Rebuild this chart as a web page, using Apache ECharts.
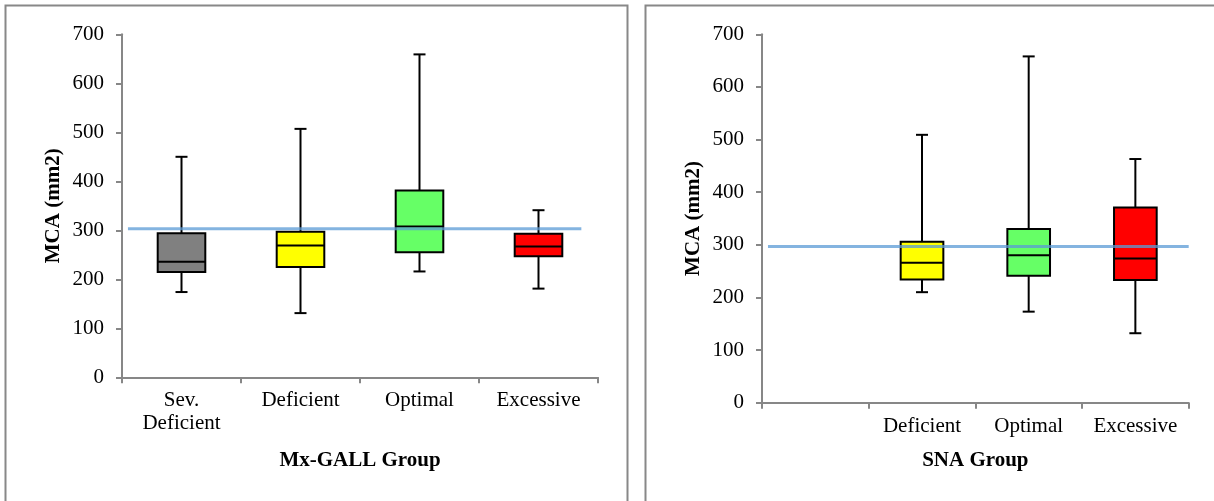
<!DOCTYPE html>
<html>
<head>
<meta charset="utf-8">
<script src="https://cdn.jsdelivr.net/npm/echarts@6/dist/echarts.min.js"></script>
<style>
html,body{margin:0;padding:0;background:#fff;}
#chart{width:1214px;height:501px;}
</style>
</head>
<body>
<div id="chart"></div>
<script>
// ---- Data ----
const leftCategories = ['Sev.\nDeficient', 'Deficient', 'Optimal', 'Excessive'];
const leftMin    = [174, 131, 216, 181];
const leftQ1     = [215, 225, 255, 247];
const leftMedian = [236, 269, 308, 267];
const leftQ3     = [294, 297, 381, 293];
const leftMax    = [450, 507, 659, 341];
const leftReference = 303;
const leftReferenceSpan = [0.05, 3.86];

const rightCategories = ['', 'Deficient', 'Optimal', 'Excessive'];
const rightMin    = [null, 210, 173, 132];
const rightQ1     = [null, 234, 241, 233];
const rightMedian = [null, 266, 280, 274];
const rightQ3     = [null, 306, 330, 371];
const rightMax    = [null, 509, 658, 463];
const rightReference = 297;
const rightReferenceSpan = [0.056, 4.0];

const yTicks = [0, 100, 200, 300, 400, 500, 600, 700];

// ---- Styles ----
const leftColors  = ['#808080', '#FFFF00', '#66FF66', '#FF0000'];
const rightColors = [null, '#FFFF00', '#66FF66', '#FF0000'];
const FONT = 'Liberation Serif';
const AXIS_GREY = '#878787';

function boxData(mins, q1s, meds, q3s, maxs) {
  const out = [];
  for (let i = 0; i < mins.length; i++) {
    if (mins[i] == null) continue;
    out.push([i, mins[i], q1s[i], meds[i], q3s[i], maxs[i]]);
  }
  return out;
}

function makeRenderer(colors) {
  return function (params, api) {
    const i = api.value(0);
    const band = api.size([1, 0])[0];
    const w = band * 0.4;
    const cap = 12;
    const cx = api.coord([i, 0])[0];
    const yMin = api.coord([i, api.value(1)])[1];
    const yQ1 = api.coord([i, api.value(2)])[1];
    const yMed = api.coord([i, api.value(3)])[1];
    const yQ3 = api.coord([i, api.value(4)])[1];
    const yMax = api.coord([i, api.value(5)])[1];
    const ls = {stroke: '#000', lineWidth: 2};
    return {
      type: 'group',
      children: [
        {type: 'line', shape: {x1: cx, y1: yMax, x2: cx, y2: yQ3}, style: ls},
        {type: 'line', shape: {x1: cx, y1: yQ1, x2: cx, y2: yMin}, style: ls},
        {type: 'line', shape: {x1: cx - cap / 2, y1: yMax, x2: cx + cap / 2, y2: yMax}, style: ls},
        {type: 'line', shape: {x1: cx - cap / 2, y1: yMin, x2: cx + cap / 2, y2: yMin}, style: ls},
        {type: 'rect', shape: {x: cx - w / 2, y: yQ3, width: w, height: yQ1 - yQ3},
          style: {fill: colors[i], stroke: '#000', lineWidth: 2}},
        {type: 'line', shape: {x1: cx - w / 2, y1: yMed, x2: cx + w / 2, y2: yMed}, style: ls}
      ]
    };
  };
}

function catAxis(gridIndex, cats, name, nameGap) {
  return {
    type: 'category', gridIndex: gridIndex, data: cats,
    boundaryGap: true,
    axisLine: {show: true, lineStyle: {color: AXIS_GREY, width: 2}},
    axisTick: {show: true, length: 6, inside: false, lineStyle: {color: AXIS_GREY, width: 2}},
    axisLabel: {color: '#000', fontFamily: FONT, fontSize: 21, lineHeight: 23, margin: 12, interval: 0},
    name: name, nameLocation: 'middle', nameGap: nameGap,
    nameTextStyle: {color: '#000', fontFamily: FONT, fontSize: 21, fontWeight: 'bold'},
    splitLine: {show: false}
  };
}
function hiddenValueX(gridIndex) {
  return {type: 'value', gridIndex: gridIndex, min: 0, max: 4, show: false, splitLine: {show: false}};
}
function valAxis(gridIndex) {
  return {
    type: 'value', gridIndex: gridIndex, min: yTicks[0], max: yTicks[yTicks.length - 1], interval: 100,
    axisLine: {show: true, lineStyle: {color: AXIS_GREY, width: 2}},
    axisTick: {show: true, length: 6, inside: false, lineStyle: {color: AXIS_GREY, width: 2}},
    axisLabel: {color: '#000', fontFamily: FONT, fontSize: 21, margin: 18},
    splitLine: {show: false},
    name: 'MCA (mm2)', nameLocation: 'middle', nameGap: 58,
    nameTextStyle: {color: '#000', fontFamily: FONT, fontSize: 21, fontWeight: 'bold'}
  };
}

const chart = echarts.init(document.getElementById('chart'), null, {renderer: 'canvas'});
chart.setOption({
  animation: false,
  backgroundColor: '#fff',
  graphic: [
    {type: 'rect', shape: {x: 5.5, y: 5.5, width: 622, height: 700}, style: {fill: 'none', stroke: '#888', lineWidth: 2}, z: -1},
    {type: 'rect', shape: {x: 645.5, y: 5.5, width: 700, height: 700}, style: {fill: 'none', stroke: '#888', lineWidth: 2}, z: -1}
  ],
  grid: [
    {left: 122, right: 616, top: 34.3, bottom: 123.7},
    {left: 762, right: 25.3, top: 34.3, bottom: 98.3}
  ],
  xAxis: [
    catAxis(0, leftCategories, 'Mx-GALL Group', 73),
    catAxis(1, rightCategories, 'SNA Group', 47),
    hiddenValueX(0),
    hiddenValueX(1)
  ],
  yAxis: [valAxis(0), valAxis(1)],
  series: [
    {
      type: 'custom', xAxisIndex: 0, yAxisIndex: 0,
      renderItem: makeRenderer(leftColors),
      encode: {x: 0, y: [1, 2, 3, 4, 5]},
      data: boxData(leftMin, leftQ1, leftMedian, leftQ3, leftMax), z: 2
    },
    {
      type: 'custom', xAxisIndex: 1, yAxisIndex: 1,
      renderItem: makeRenderer(rightColors),
      encode: {x: 0, y: [1, 2, 3, 4, 5]},
      data: boxData(rightMin, rightQ1, rightMedian, rightQ3, rightMax), z: 2
    },
    {
      type: 'line', xAxisIndex: 2, yAxisIndex: 0, symbol: 'none', z: 5, clip: false,
      lineStyle: {color: '#5B9BD5', width: 3, opacity: 0.75},
      data: [[leftReferenceSpan[0], leftReference], [leftReferenceSpan[1], leftReference]]
    },
    {
      type: 'line', xAxisIndex: 3, yAxisIndex: 1, symbol: 'none', z: 5, clip: false,
      lineStyle: {color: '#5B9BD5', width: 3, opacity: 0.75},
      data: [[rightReferenceSpan[0], rightReference], [rightReferenceSpan[1], rightReference]]
    }
  ]
});
</script>
</body>
</html>
